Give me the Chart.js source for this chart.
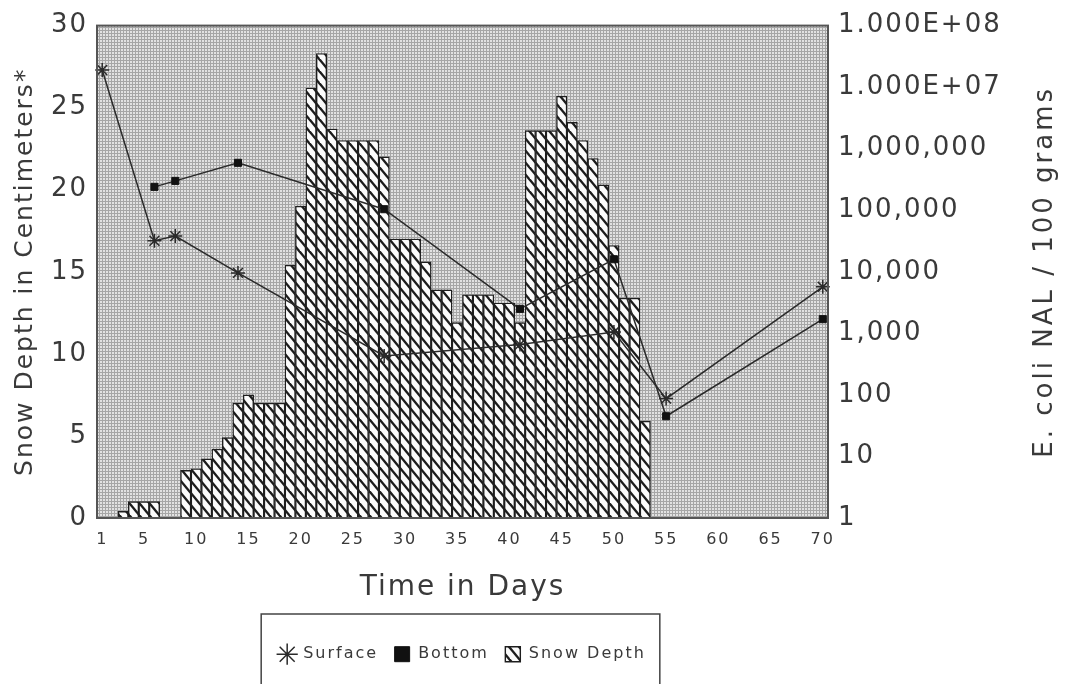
<!DOCTYPE html>
<html>
<head>
<meta charset="utf-8">
<title>Snow depth and E. coli NAL</title>
<script src="https://cdn.jsdelivr.net/npm/chart.js@4.4.1/dist/chart.umd.min.js"></script>
<style>
  html, body { margin: 0; padding: 0; background: #fff; }
  canvas { display: block; }
</style>
</head>
<body>
<canvas id="snowChart" width="1067" height="684"></canvas>
<script>
// Snow depth (cm), one bar per day
const barDays = [3, 4, 5, 6, 9, 10, 11, 12, 13, 14, 15, 16, 17, 18, 19, 20, 21, 22, 23, 24,
    25, 26, 27, 28, 29, 30, 31, 32, 33, 34, 35, 36, 37, 38, 39, 40, 41, 42, 43, 44,
    45, 46, 47, 48, 49, 50, 51, 52, 53];
const snowDepth = [0.4, 1.0, 1.0, 1.0, 2.9, 3.0, 3.6, 4.2, 4.9, 7.0, 7.5, 7.0, 7.0, 7.0, 15.4, 19.0, 26.2, 28.3, 23.7, 23.0,
    23.0, 23.0, 23.0, 22.0, 17.0, 17.0, 17.0, 15.6, 13.9, 13.9, 11.9, 13.6, 13.6, 13.6, 13.1, 13.1, 11.9, 23.6, 23.6, 23.6,
    25.7, 24.1, 23.0, 21.9, 20.3, 16.6, 13.4, 13.4, 5.9];

// E. coli NAL / 100 grams
const surfaceDays = [1, 6, 8, 14, 28, 41, 50, 55, 70];
const surfaceCounts = [19000000, 32000, 38000, 9600, 430, 660, 1050, 87, 5700];
const bottomDays = [6, 8, 14, 28, 41, 50, 55, 70];
const bottomCounts = [240000, 300000, 590000, 104000, 2500, 16000, 45, 1700];

// axis ticks
const xTickValues = [1, 5, 10, 15, 20, 25, 30, 35, 40, 45, 50, 55, 60, 65, 70];
const rightTickValues = [1, 10, 100, 1000, 10000, 100000, 1000000, 10000000, 100000000];
const rightTickLabels = ['1', '10', '100', '1,000', '10,000', '100,000', '1,000,000', '1.000E+07', '1.000E+08'];

const FONT = "'DejaVu Sans', 'Liberation Sans', sans-serif";
const INK = '#3a3a3a';

// hatch for the bars: continuous "\" diagonals on white
function makeHatch() {
    const c = document.createElement('canvas');
    c.width = 10; c.height = 12;
    const g = c.getContext('2d');
    g.fillStyle = '#fbfbfb';
    g.fillRect(0, 0, 10, 12);
    g.strokeStyle = '#1c1c1c';
    g.lineWidth = 2.4;
    for (const dy of [-12, 0, 12]) {
        g.beginPath();
        g.moveTo(-1, dy - 1.2);
        g.lineTo(11, dy + 13.2);
        g.stroke();
    }
    return g.createPattern(c, 'repeat');
}

// fine dotted mesh for the plot background
function makeMesh() {
    const c = document.createElement('canvas');
    c.width = 3; c.height = 3;
    const g = c.getContext('2d');
    g.fillStyle = '#e2e2e2';
    g.fillRect(0, 0, 3, 3);
    g.fillStyle = '#a6a6a6';
    g.fillRect(0, 0, 3, 1);
    g.fillRect(0, 0, 1, 3);
    return g.createPattern(c, 'repeat');
}

const hatch = makeHatch();
const mesh = makeMesh();

const paperPlugin = {
    id: 'paper',
    beforeUpdate(chart) {
        chart.ctx.letterSpacing = '2px';
    },
    beforeLayout(chart) {
        const lg = chart.legend;
        if (lg && !lg._fixed) {
            const fit = lg.fit;
            lg.fit = function () {
                fit.call(this);
                this.height = 71;
            };
            lg._fixed = true;
        }
    },
    beforeDraw(chart) {
        const { ctx, chartArea: a } = chart;
        ctx.letterSpacing = '2px';
        ctx.save();
        ctx.fillStyle = mesh;
        ctx.fillRect(a.left, a.top, a.right - a.left, a.bottom - a.top);
        ctx.restore();
    },
    afterDatasetsDraw(chart) {
        const { ctx, chartArea: a } = chart;
        ctx.save();
        ctx.strokeStyle = '#555';
        ctx.lineWidth = 2;
        ctx.strokeRect(a.left, a.top, a.right - a.left, a.bottom - a.top);
        ctx.restore();
    },
    afterDraw(chart) {
        const { ctx, chartArea: a } = chart;
        const y2 = chart.scales.y2;
        // right axis title, reading bottom to top
        ctx.save();
        ctx.fillStyle = INK;
        ctx.font = '26px ' + FONT;
        ctx.letterSpacing = '3px';
        ctx.textAlign = 'center';
        ctx.textBaseline = 'middle';
        ctx.translate(y2.right - 22, (a.top + a.bottom) / 2);
        ctx.rotate(-Math.PI / 2);
        ctx.fillText('E. coli NAL / 100 grams', 0, 0);
        ctx.restore();
        // box round the legend
        const lg = chart.legend;
        const hb = lg.legendHitBoxes;
        if (hb && hb.length) {
            const l = Math.min(...hb.map(h => h.left)) - 18;
            const r = Math.max(...hb.map(h => h.left + h.width)) + 14;
            ctx.save();
            ctx.strokeStyle = '#444';
            ctx.lineWidth = 1.5;
            ctx.strokeRect(l, lg.top + 1, r - l, chart.height + 10);
            ctx.restore();
        }
    }
};

const ctx = document.getElementById('snowChart').getContext('2d');
new Chart(ctx, {
    type: 'bar',
    data: {
        datasets: [
            {
                type: 'line',
                label: 'Surface',
                data: surfaceDays.map((d, i) => ({ x: d, y: surfaceCounts[i] })),
                yAxisID: 'y2',
                borderColor: '#2a2a2a',
                borderWidth: 1.5,
                pointStyle: 'star',
                pointRadius: 7,
                pointBorderWidth: 1.5,
                pointBorderColor: '#2a2a2a',
                backgroundColor: '#2a2a2a',
                tension: 0,
                clip: false,
                order: 1
            },
            {
                type: 'line',
                label: 'Bottom',
                data: bottomDays.map((d, i) => ({ x: d, y: bottomCounts[i] })),
                yAxisID: 'y2',
                borderColor: '#2a2a2a',
                borderWidth: 1.5,
                pointStyle: 'rect',
                pointRadius: 5,
                pointBorderWidth: 1,
                pointBorderColor: '#111',
                pointBackgroundColor: '#111',
                backgroundColor: '#111',
                tension: 0,
                clip: false,
                order: 1
            },
            {
                label: 'Snow Depth',
                data: barDays.map((d, i) => ({ x: d, y: snowDepth[i] })),
                yAxisID: 'y',
                backgroundColor: hatch,
                borderColor: '#1e1e1e',
                borderWidth: 1.4,
                pointStyle: 'rect',
                barPercentage: 1,
                categoryPercentage: 1,
                order: 2
            }
        ]
    },
    options: {
        responsive: false,
        animation: false,
        devicePixelRatio: 1,
        layout: { padding: { top: 22, left: 0, right: 0, bottom: 0 } },
        plugins: {
            tooltip: { enabled: false },
            legend: {
                position: 'bottom',
                fullSize: false,
                title: { display: true, text: '', font: { size: 1 }, padding: { top: 0, bottom: 16 } },
                labels: {
                    usePointStyle: true,
                    padding: 16,
                    boxHeight: 15,
                    color: INK,
                    font: { family: FONT, size: 16 }
                }
            }
        },
        scales: {
            x: {
                type: 'linear',
                min: 0.5,
                max: 70.5,
                offset: false,
                grid: { display: false, drawTicks: false },
                border: { display: false },
                afterBuildTicks: scale => { scale.ticks = xTickValues.map(v => ({ value: v })); },
                afterFit: scale => { scale.height = 95; },
                ticks: {
                    autoSkip: false,
                    maxRotation: 0,
                    padding: 12,
                    color: INK,
                    font: { family: FONT, size: 16 }
                },
                title: {
                    display: true,
                    text: 'Time in Days',
                    color: INK,
                    font: { family: FONT, size: 28 },
                    padding: { top: 0, bottom: 8 }
                }
            },
            y: {
                position: 'left',
                min: 0,
                max: 30,
                grid: { display: false, drawTicks: false },
                border: { display: false },
                afterFit: scale => { scale.width = 97; },
                ticks: {
                    stepSize: 5,
                    padding: 9,
                    color: INK,
                    font: { family: FONT, size: 26 }
                },
                title: {
                    display: true,
                    text: 'Snow Depth in Centimeters*',
                    color: INK,
                    font: { family: FONT, size: 25 },
                    padding: { top: 10, bottom: 0 }
                }
            },
            y2: {
                type: 'logarithmic',
                position: 'right',
                min: 1,
                max: 100000000,
                grid: { display: false, drawTicks: false },
                border: { display: false },
                afterBuildTicks: scale => { scale.ticks = rightTickValues.map(v => ({ value: v })); },
                afterFit: scale => { scale.width = 239; },
                ticks: {
                    padding: 10,
                    color: INK,
                    font: { family: FONT, size: 26 },
                    callback: (value, index) => rightTickLabels[index]
                }
            }
        }
    },
    plugins: [paperPlugin]
});
</script>
</body>
</html>
